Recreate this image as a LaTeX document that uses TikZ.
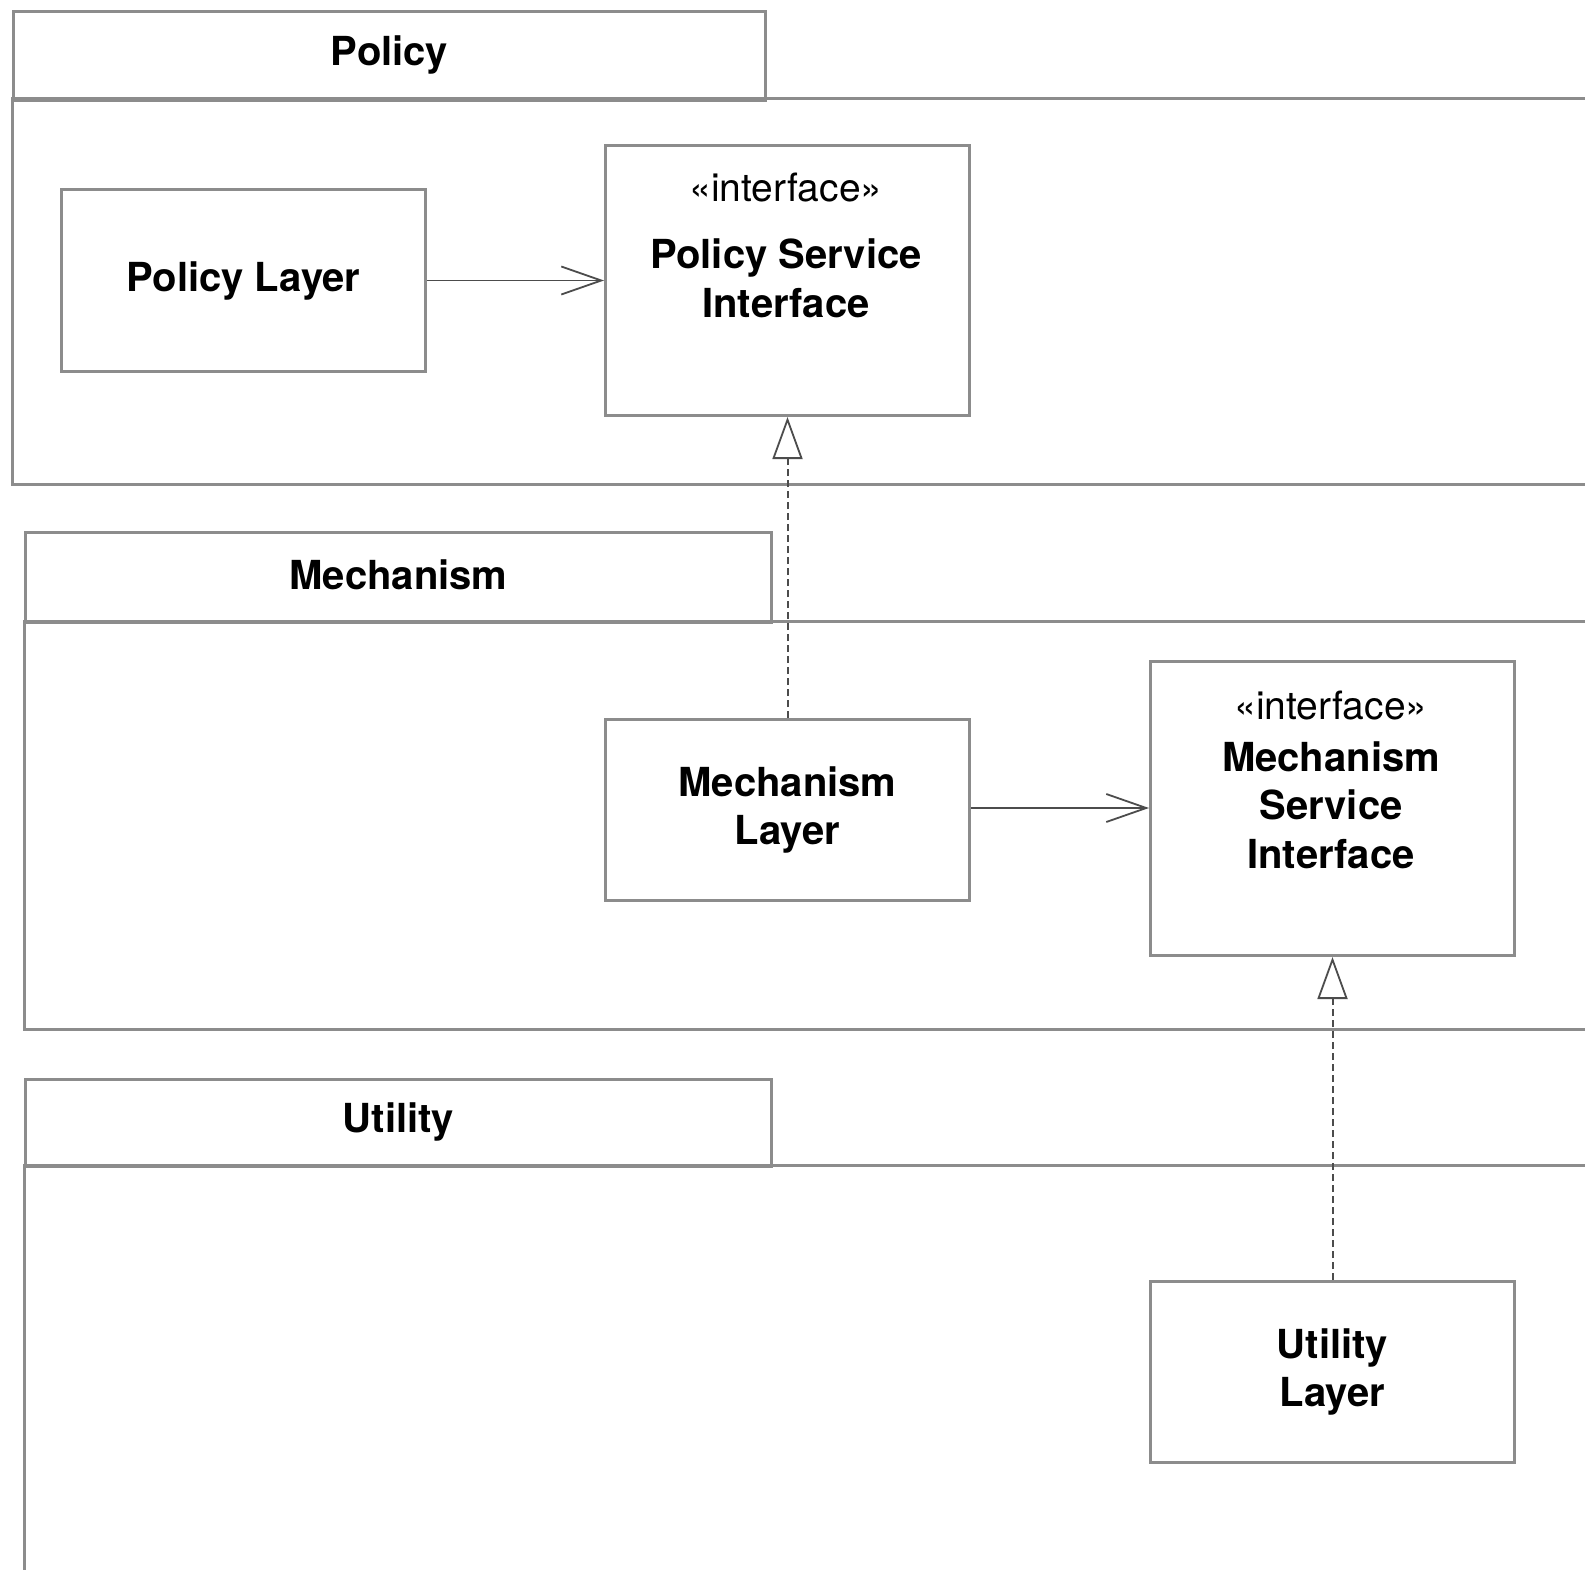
\documentclass[tikz,border=0pt]{standalone}
\usepackage{fontspec}
\setmainfont{TeX Gyre Heros}
\usetikzlibrary{arrows.meta}
\definecolor{boxgray}{gray}{0.55}
\definecolor{linegray}{gray}{0.3}
\begin{document}
\begin{tikzpicture}[x=1pt,y=-1pt,
  box/.style={draw=boxgray, line width=3pt, inner sep=0pt, anchor=north west},
  pkg/.style={draw=boxgray, line width=3pt},
  tabtxt/.style={font=\fontsize{40}{48.5}\selectfont\bfseries, inner sep=0pt},
  nametxt/.style={font=\fontsize{40}{48.5}\selectfont\bfseries, align=center, inner sep=0pt},
  sttxt/.style={font=\fontsize{39}{48}\selectfont, inner sep=0pt, anchor=base},
  dep/.style={draw=linegray, line width=1.8pt, -{Straight Barb[length=40pt,width=28pt,line width=1.8pt]}},
  real/.style={draw=linegray, line width=2pt, dash pattern=on 7pt off 4pt, -{Triangle[open,length=42pt,width=30pt,line width=1.8pt]}}
]
\useasboundingbox[fill=white] (0,0) rectangle (1585,1570);

% Policy package
\node[box, minimum width=752pt, minimum height=89pt] (ptab) at (12,10) {};
\node[tabtxt] (ptabt) at ([yshift=1pt]ptab.center) {Policy};
\draw[pkg] (1590,99) -- (12,99) -- (12,484) -- (1590,484);

% Mechanism package
\node[box, minimum width=746pt, minimum height=90pt] (mtab) at (24,531) {};
\node[tabtxt] (mtabt) at ([yshift=3pt]mtab.center) {Mechanism};
\draw[pkg] (1590,621) -- (24,621) -- (24,1029) -- (1590,1029);

% Utility package
\node[box, minimum width=746pt, minimum height=87pt] (utab) at (24,1078) {};
\node[tabtxt] (utabt) at ([yshift=1pt]utab.center) {Utility};
\draw[pkg] (1590,1165) -- (24,1165) -- (24,1580);

% Classes
\node[box, minimum width=364pt, minimum height=182pt] (pl) at (60,188) {};
\node[nametxt] (plt) at (pl.center) {Policy Layer};

\node[box, minimum width=364pt, minimum height=270pt] (psi) at (604,144) {};
\node[sttxt] (psis) at (786,202) {«interface»};
\node[nametxt, anchor=base] (psit) at (786,317) {Policy Service\\Interface};

\node[box, minimum width=364pt, minimum height=181pt] (ml) at (604,718) {};
\node[nametxt] (mlt) at (ml.center) {Mechanism\\Layer};

\node[box, minimum width=364pt, minimum height=294pt] (msi) at (1149,660) {};
\node[sttxt] (msis) at (1331,719) {«interface»};
\node[nametxt, anchor=base] (msit) at (1331,868) {Mechanism\\Service\\Interface};

\node[box, minimum width=364pt, minimum height=181pt] (ul) at (1149,1280) {};
\node[nametxt] (ult) at (ul.center) {Utility\\Layer};

\coordinate (mlout) at ([yshift=2pt]ml.east);

% Connectors
\draw[dep] (pl.east) -- (psi.west |- pl.east);
\draw[real] (ml.north) -- (psi.south);
\draw[dep] (mlout) -- (msi.west |- mlout);
\draw[real] (ul.north) -- (msi.south);
\end{tikzpicture}
\end{document}
